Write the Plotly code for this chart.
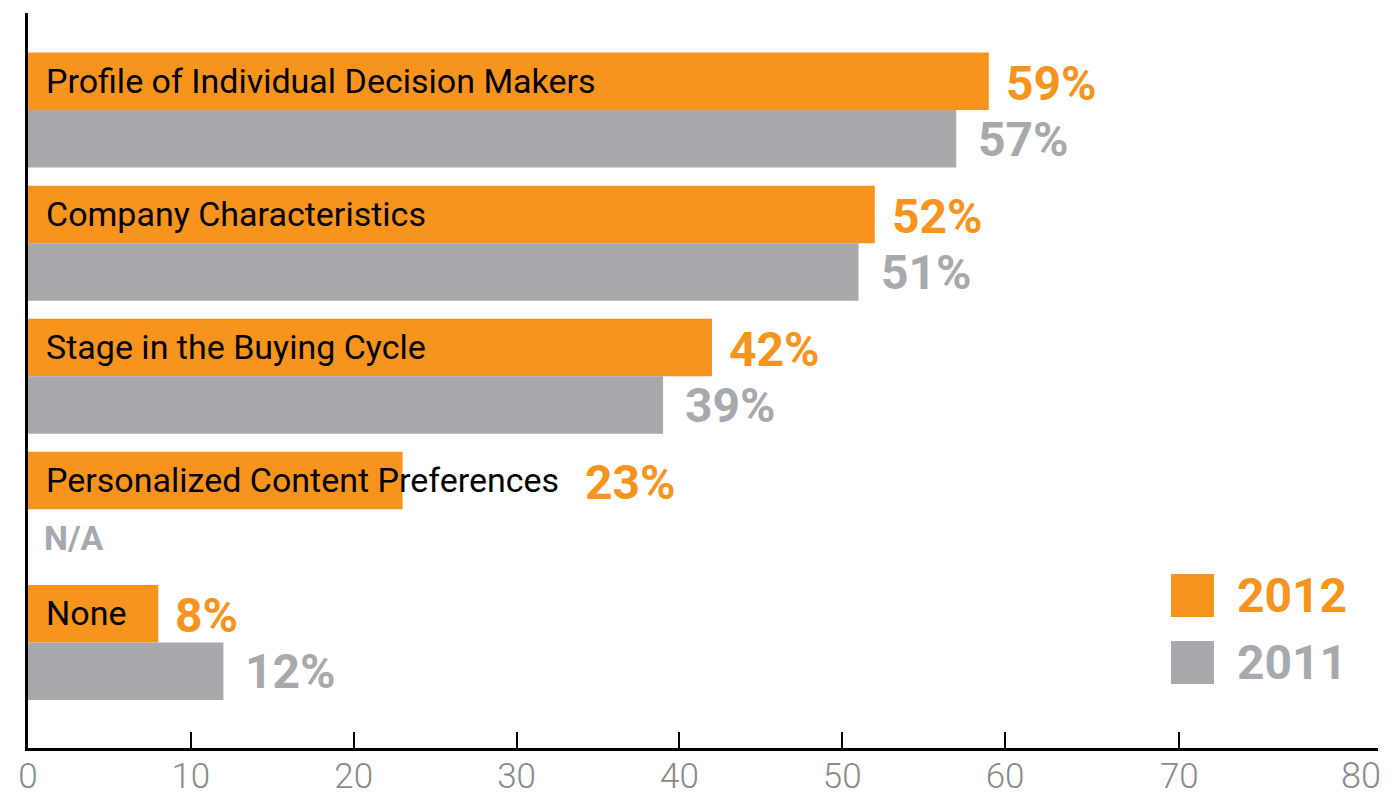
import plotly.graph_objects as go

# --- dados ---
categorias = [
    "Profile of Individual Decision Makers",
    "Company Characteristics",
    "Stage in the Buying Cycle",
    "Personalized Content Preferences",
    "None",
]
valores_2012 = [59, 52, 42, 23, 8]
valores_2011 = [57, 51, 39, None, 12]
anos = ["2012", "2011"]

tick_vals = [0, 10, 20, 30, 40, 50, 60, 70.7, 82.85]
tick_text = ["0", "10", "20", "30", "40", "50", "60", "70", "80"]

LARANJA = "#F7941D"
CINZA = "#A7A9AC"
CINZA_EIXO = "#8A8A8A"
FONTE = "Roboto"

fig = go.Figure()
fig.add_trace(go.Bar(y=categorias, x=valores_2012, orientation="h", name=anos[0],
                     marker=dict(color=LARANJA, line=dict(width=0))))
fig.add_trace(go.Bar(y=categorias, x=valores_2011, orientation="h", name=anos[1],
                     marker=dict(color=CINZA, line=dict(width=0))))

anotacoes = []
for cat, v12, v11 in zip(categorias, valores_2012, valores_2011):
    # nome da categoria dentro da barra laranja
    anotacoes.append(dict(x=0, y=cat, xref="x", yref="y", text=cat, showarrow=False,
                          xanchor="left", xshift=16, yshift=29,
                          font=dict(family=FONTE, size=34, color="black")))
    # rótulo 2012 (depois do nome quando ele passa do fim da barra)
    desloc = 180 if cat == "Personalized Content Preferences" else 15
    anotacoes.append(dict(x=v12, y=cat, xref="x", yref="y", text=f"{v12}%", showarrow=False,
                          xanchor="left", xshift=desloc, yshift=27,
                          font=dict(family=FONTE, size=48, color=LARANJA, weight="bold")))
    # rótulo 2011
    if v11 is None:
        anotacoes.append(dict(x=0, y=cat, xref="x", yref="y", text="N/A", showarrow=False,
                              xanchor="left", xshift=14, yshift=-29,
                              font=dict(family=FONTE, size=34, color=CINZA, weight="bold")))
    else:
        anotacoes.append(dict(x=v11, y=cat, xref="x", yref="y", text=f"{v11}%", showarrow=False,
                              xanchor="left", xshift=20, yshift=-29,
                              font=dict(family=FONTE, size=48, color=CINZA, weight="bold")))

# legenda manual com quadrados grandes
legenda = [(anos[0], LARANJA, 0.2367, 0.1782, 0.2075), (anos[1], CINZA, 0.1456, 0.0871, 0.1163)]
formas = []
for ano, cor, y_top, y_bot, y_txt in legenda:
    formas.append(dict(type="rect", xref="paper", yref="paper", x0=0.8467, x1=0.8785,
                       y0=y_bot, y1=y_top, fillcolor=cor, line=dict(width=0)))
    anotacoes.append(dict(x=0.894, y=y_txt, xref="paper", yref="paper", text=ano, showarrow=False,
                          xanchor="left", yanchor="middle",
                          font=dict(family=FONTE, size=48, color=cor, weight="bold")))

# o último rótulo do eixo fica um pouco à esquerda do traço, como no original
anotacoes.append(dict(x=tick_vals[-1], y=0, xref="x", yref="paper", text=tick_text[-1],
                      showarrow=False, xanchor="center", yanchor="middle", xshift=-16, yshift=-28,
                      font=dict(family=FONTE, size=36, color=CINZA_EIXO, weight=300)))

# a página tem 8px de margem no body; o tamanho compensa isso
fig.update_layout(
    width=1384, height=792,
    margin=dict(l=20, r=14, t=5, b=52),
    plot_bgcolor="white", paper_bgcolor="white",
    barmode="group", bargap=0.136, bargroupgap=0,
    showlegend=False,
    annotations=anotacoes, shapes=formas,
    xaxis=dict(range=[0, 82.9], tickvals=tick_vals, ticktext=tick_text[:-1] + [""],
               ticks="inside", ticklen=16, tickwidth=2, tickcolor="black",
               showline=True, linecolor="black", linewidth=2.5, showgrid=False, zeroline=False,
               automargin=False, ticklabelstandoff=-5,
               tickfont=dict(family=FONTE, size=35, color=CINZA_EIXO, weight=300)),
    yaxis=dict(range=[4.793, -0.729], showticklabels=False, ticks="",
               showline=True, linecolor="black", linewidth=2.5, showgrid=False, zeroline=False),
)

fig.write_html("out.html")
